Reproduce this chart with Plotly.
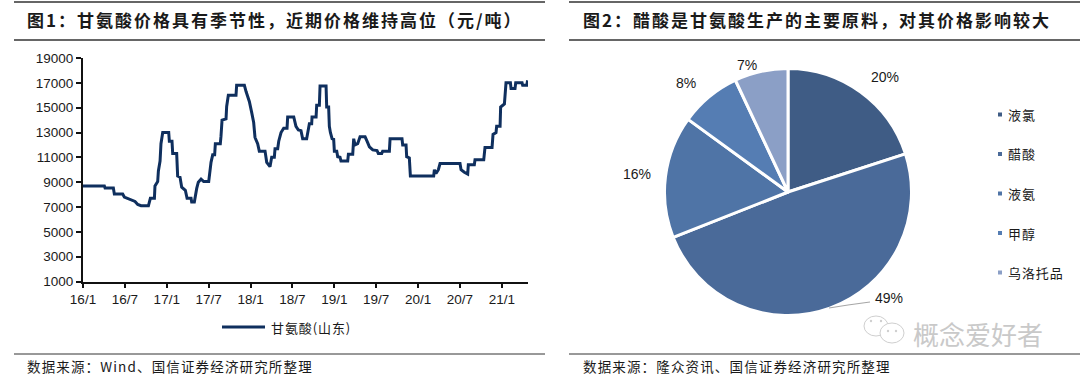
import plotly.graph_objects as go

W, H = 1080, 380
FONT = "Liberation Sans, Noto Sans CJK SC, sans-serif"
CJK = "Noto Sans CJK SC, Liberation Sans, sans-serif"

# Chart 1: months since 2016/1, price (yuan/ton)
price_months = [0, 3.06, 3.16, 4.35, 4.49, 5.68, 5.92, 6.64, 7.45, 7.84, 8.31, 9.37, 9.65, 10.23, 10.31, 10.70, 10.80,
                11.04, 11.17, 11.42, 12.28, 12.37, 12.75, 12.85, 13.42, 13.56, 13.90, 14.14, 14.66, 14.91, 15.48, 15.57,
                15.95, 16.29, 16.52, 16.91, 17.29, 18.01, 18.10, 18.34, 18.58, 18.86, 18.96, 19.67, 19.77, 19.92, 20.49,
                20.58, 20.82, 21.92, 22.01, 23.12, 23.36, 23.83, 24.17, 24.45, 24.64, 25.02, 25.26, 26.08, 26.32, 26.79,
                27.03, 27.41, 27.51, 27.89, 28.04, 28.37, 28.75, 29.23, 29.32, 30.19, 30.51, 30.85, 31.23, 31.47, 32.04,
                32.28, 32.43, 32.76, 32.81, 33.39, 33.48, 33.86, 33.96, 34.82, 34.91, 35.19, 35.29, 35.44, 35.68, 35.91,
                36.01, 36.35, 36.49, 36.82, 36.96, 37.92, 38.02, 38.64, 38.78, 38.97, 39.35, 39.69, 40.41, 40.69, 41.03,
                41.51, 42.12, 42.31, 42.79, 42.93, 43.89, 43.99, 45.70, 45.80, 46.28, 46.37, 46.75, 46.90, 50.24, 50.34,
                50.57, 50.91, 51.15, 54.01, 54.16, 54.63, 55.11, 55.20, 56.06, 56.16, 57.41, 57.59, 58.60, 58.74, 59.17,
                59.26, 59.75, 59.83, 60.37, 60.60, 61.23, 61.32, 61.89, 61.99, 62.90, 62.99, 63.57, 63.70]
price_values = [8700, 8700, 8530, 8530, 8050, 8050, 7800, 7650, 7450, 7200, 7100, 7100, 7700, 7700, 8700, 9050, 9900,
                10700, 12100, 13000, 13000, 12300, 12300, 11300, 11300, 9500, 9400, 8600, 8350, 7700, 7700, 7400,
                7400, 8500, 9000, 9250, 9050, 9050, 9500, 10600, 11200, 11200, 12100, 12100, 12700, 14000, 14100,
                15100, 16000, 16000, 16800, 16800, 16300, 15500, 14600, 13800, 12600, 12100, 11500, 11500, 10600, 10250,
                11000, 11000, 11700, 11700, 12300, 13000, 13350, 13350, 14250, 14250, 13500, 13200, 13150, 12500, 12500,
                13250, 13700, 13700, 14250, 14250, 15200, 15200, 16750, 16750, 15050, 15050, 13500, 13000, 12500, 12450,
                11500, 11500, 11050, 11000, 10700, 10700, 11250, 11250, 12500, 12000, 12100, 12650, 12650, 12300, 11850,
                11600, 11550, 11300, 11300, 11500, 11500, 12500, 12500, 12000, 12000, 11050, 10950, 9500, 9500, 10000,
                9700, 10000, 10500, 10500, 10000, 9800, 9650, 10400, 10400, 10800, 10800, 11800, 11800, 12850, 13000,
                13500, 13500, 15050, 15300, 17000, 17000, 16550, 16550, 17000, 17000, 16800, 16800, 17200]
x_tick_months = [0, 6, 12, 18, 24, 30, 36, 42, 48, 54, 60]
x_tick_labels = ["16/1", "16/7", "17/1", "17/7", "18/1", "18/7", "19/1", "19/7", "20/1", "20/7", "21/1"]
y_ticks = [1000, 3000, 5000, 7000, 9000, 11000, 13000, 15000, 17000, 19000]
series_name = "甘氨酸(山东)"

# Chart 2
pie_labels = ["液氯", "醋酸", "液氨", "甲醇", "乌洛托品"]
pie_values = [20, 49, 16, 8, 7]
pie_colors = ["#3F5C85", "#4A6A99", "#4F74A6", "#557DB3", "#8B9FC6"]

title_left = "图1\uff1a甘氨酸价格具有季节性\uff0c近期价格维持高位\uff08元/吨\uff09"
title_right = "图2\uff1a醋酸是甘氨酸生产的主要原料\uff0c对其价格影响较大"
source_left = "数据来源\uff1aWind、国信证券经济研究所整理"
source_right = "数据来源\uff1a隆众资讯、国信证券经济研究所整理"
watermark = "概念爱好者"


def fx(p):
    return p / W


def fy(p):
    return 1 - p / H


fig = go.Figure()
fig.add_trace(go.Scatter(x=price_months, y=price_values, mode="lines", name=series_name,
                         line=dict(color="#0F2F5E", width=3)))
fig.add_trace(go.Pie(labels=pie_labels, values=pie_values, sort=False, direction="clockwise", rotation=0,
                     marker=dict(colors=pie_colors, line=dict(color="white", width=3)),
                     textinfo="none", hoverinfo="label+percent",
                     domain=dict(x=[fx(664.5), fx(911.5)], y=[fy(315.5), fy(68.5)])))

annotations = []


def text(px, py, s, size, color="#1a1a1a", anchor="left", family=CJK, bold=False):
    annotations.append(dict(xref="paper", yref="paper", x=fx(px), y=fy(py), text=f"<b>{s}</b>" if bold else s,
                            showarrow=False, xanchor=anchor, yanchor="middle", align=anchor,
                            font=dict(size=size, color=color, family=family)))


text(25, 20, title_left, 17, bold=True)
text(581, 20, title_right, 17, bold=True)
text(25, 366, source_left, 13.5)
text(581, 366, source_right, 13.5)
text(269, 327, series_name, 13)

pct_positions = [(885, 77), (889, 298), (637, 174), (686, 83), (747, 65)]
for v, (px, py) in zip(pie_values, pct_positions):
    text(px, py, f"{v}%", 14, anchor="center", family=FONT)

legend_rows = [114.5, 154, 193.5, 233, 272.5]
shapes = []


def line(x0, y0, x1, y1, color="#333333", width=1.5):
    shapes.append(dict(type="line", xref="paper", yref="paper", x0=fx(x0), y0=fy(y0), x1=fx(x1), y1=fy(y1),
                       line=dict(color=color, width=width)))


def ellipse(cx, cy, rx, ry, fill="white", color="#cfcfcf", width=1):
    shapes.append(dict(type="circle", xref="paper", yref="paper", x0=fx(cx - rx), x1=fx(cx + rx),
                       y0=fy(cy + ry), y1=fy(cy - ry), fillcolor=fill, line=dict(color=color, width=width)))


for lab, col, py in zip(pie_labels, pie_colors, legend_rows):
    shapes.append(dict(type="rect", xref="paper", yref="paper", x0=fx(998), x1=fx(1002), y0=fy(py + 2), y1=fy(py - 2),
                       fillcolor=col, line=dict(width=0)))
    text(1006, py, lab, 13)

# Line legend key
line(222, 327, 265, 327, "#0F2F5E", 3)

# Header/footer rules
for x0, x1 in [(14, 545), (569, 1080)]:
    line(x0, 2, x1, 2)
    line(x0, 40, x1, 40)
line(14, 354, 545, 354, width=1)
line(569, 354, 1080, 354, width=1)

# Leader line of the 49% label
line(829, 308, 848, 305, "#a6a6a6", 1.2)
line(848, 305, 870, 302, "#a6a6a6", 1.2)

# Watermark
ellipse(876, 326, 12, 10)
ellipse(892, 333, 12, 10)
for ex, ey in [(871, 321), (881, 321), (888, 331), (896, 331)]:
    ellipse(ex, ey, 1.2, 1.2, fill="#cfcfcf", width=0)
text(911, 333, watermark, 26, color="#c9c9c9")

fig.update_layout(
    width=W, height=H, autosize=False, margin=dict(l=0, r=0, t=0, b=0, pad=0, autoexpand=False),
    paper_bgcolor="white", plot_bgcolor="white", showlegend=False,
    font=dict(family=FONT, color="#1a1a1a"),
    annotations=annotations, shapes=shapes,
    xaxis=dict(domain=[fx(83), fx(528)], range=[0, 63.75], tickvals=x_tick_months, ticktext=x_tick_labels,
               automargin=False, showgrid=False, zeroline=False, showline=True, linecolor="#111111", linewidth=2, tickangle=0,
               ticks="outside", ticklen=4, tickwidth=1.5, tickcolor="#111111", tickfont=dict(size=13.5, color="#1a1a1a")),
    yaxis=dict(domain=[fy(281.5), fy(58)], range=[1000, 19000], tickvals=y_ticks,
               automargin=False, tickformat="d", showgrid=False, zeroline=False, showline=True, linecolor="#111111", linewidth=2,
               ticks="outside", ticklen=5, tickwidth=1.5, tickcolor="#111111", tickfont=dict(size=13.5, color="#1a1a1a")),
)

page_script = """
document.body.style.margin='0';document.body.style.overflow='hidden';
document.querySelectorAll('.annotation-text').forEach(function(t){
  var s=t.textContent;
  if(s.indexOf('图')===0){t.style.letterSpacing='2px';}
  else if(s.indexOf('数据来源')===0){t.style.letterSpacing='1.15px';}
  else if(/^(甘氨酸|液|醋|甲|乌)/.test(s)){t.style.letterSpacing='0.9px';}
});
"""
fig.write_html("out.html", config=dict(displayModeBar=False), post_script=page_script)
